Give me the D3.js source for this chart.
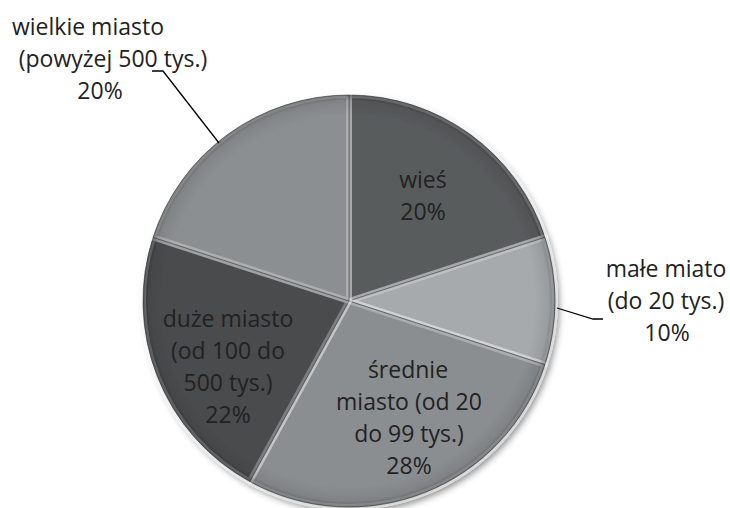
<!DOCTYPE html>
<html><head><meta charset="utf-8">
<script src="https://cdn.jsdelivr.net/npm/d3@7/dist/d3.min.js"></script>
<style>body{margin:0;background:#fff}svg{display:block}</style>
</head><body>
<svg id="c" width="730" height="508"></svg>
<script>
const categories = ["wieś", "małe miato (do 20 tys.)", "średnie miasto (od 20 do 99 tys.)", "duże miasto (od 100 do 500 tys.)", "wielkie miasto (powyżej 500 tys.)"];
const values = [20, 10, 28, 22, 20];
const labelLines = [
  ["wieś", "20%"],
  ["małe miato", "(do 20 tys.)", "10%"],
  ["średnie", "miasto (od 20", "do 99 tys.)", "28%"],
  ["duże miasto", "(od 100 do", "500 tys.)", "22%"],
  ["wielkie miasto", "(powyżej 500 tys.)", "20%"]
];
const colors = ["#595b5d", "#a6aaad", "#8b8e91", "#4a4c4e", "#8c8f91"];

// layout
const cx = 349, cy = 301, R = 206;
const lineH = 32;
const labelPos = [
  {y: 195, lx: [423, 423]},
  {y: 300, lx: [666, 666, 667]},
  {y: 417, lx: [408, 409, 409, 409]},
  {y: 366, lx: [228, 228, 228, 228]},
  {y: 58, lx: [88, 113, 100]}
];
const leaders = [null, [[557,308],[593,319],[603,319]], null, null, [[219,143],[163,71],[152,71]]];

const svg = d3.select("#c");
const defs = svg.append("defs");
const f = defs.append("filter").attr("id","sh").attr("x","-20%").attr("y","-20%").attr("width","140%").attr("height","140%");
f.append("feGaussianBlur").attr("in","SourceAlpha").attr("stdDeviation",3);
f.append("feOffset").attr("dx",3).attr("dy",4).attr("result","o");
f.append("feComponentTransfer").append("feFuncA").attr("type","linear").attr("slope",0.45);
const m = f.append("feMerge"); m.append("feMergeNode"); m.append("feMergeNode").attr("in","SourceGraphic");

const rg = defs.append("radialGradient").attr("id","rim").attr("gradientUnits","userSpaceOnUse")
  .attr("cx",0).attr("cy",0).attr("r",R);
rg.append("stop").attr("offset","0.9").attr("stop-color","#000").attr("stop-opacity",0);
rg.append("stop").attr("offset","0.97").attr("stop-color","#000").attr("stop-opacity",0.08);
rg.append("stop").attr("offset","1").attr("stop-color","#000").attr("stop-opacity",0.3);

const pie = d3.pie().sort(null).value(d => d)(values);
const arc = d3.arc().innerRadius(0).outerRadius(R);

const g = svg.append("g").attr("transform", `translate(${cx},${cy})`);
const gs = g.append("g").attr("filter","url(#sh)");

const slices = gs.selectAll("g.s").data(pie).join("g").attr("class","s");
slices.append("path").attr("d", arc).attr("fill", (d,i) => colors[i]);
slices.append("path").attr("d", arc).attr("fill","none")
  .attr("stroke","#ffffff").attr("stroke-opacity",0.28).attr("stroke-width",6)
  .attr("stroke-linejoin","round");
slices.append("path").attr("d", arc).attr("fill","none")
  .attr("stroke","#3a3c3e").attr("stroke-opacity",0.6).attr("stroke-width",1);
gs.append("circle").attr("r",R).attr("fill","url(#rim)");

// labels
const tg = svg.append("g").attr("font-family","'Open Sans', sans-serif").attr("font-size",23).attr("fill","#222");
labelLines.forEach((lines, i) => {
  const pos = labelPos[i];
  const n = lines.length;
  lines.forEach((t, j) => {
    tg.append("text").attr("x", pos.lx[j])
      .attr("y", pos.y + (j - (n-1)/2) * lineH)
      .attr("text-anchor","middle").attr("dominant-baseline","central").text(t);
  });
});
leaders.forEach(l => {
  if (!l) return;
  svg.append("path").attr("d", d3.line()(l)).attr("fill","none").attr("stroke","#000").attr("stroke-width",1.3);
});
</script>
</body></html>
